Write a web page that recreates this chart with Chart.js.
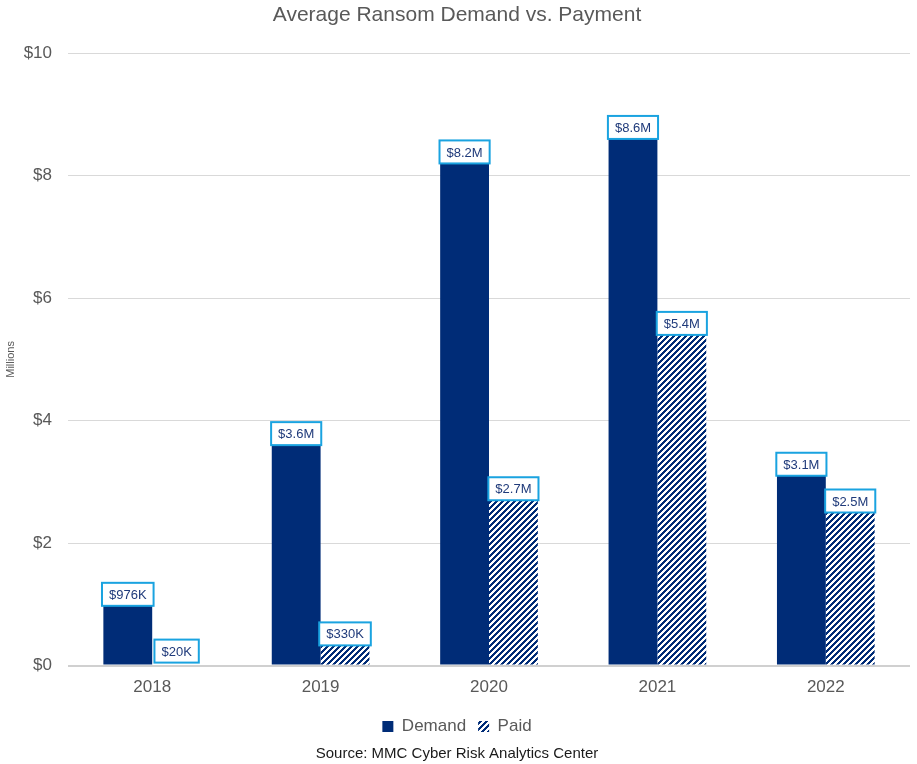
<!DOCTYPE html>
<html lang="en">
<head>
  <meta charset="UTF-8" />
  <title>Average Ransom Demand vs. Payment</title>
  <script src="https://cdn.jsdelivr.net/npm/chart.js"></script>
  <style>
    html, body { margin: 0; padding: 0; background: #ffffff; }
    #wrap { width: 917px; height: 764px; }
  </style>
</head>
<body>
  <div id="wrap"><canvas id="chart" width="917" height="764"></canvas></div>

  <script>
    // values in millions of dollars
    const years = ['2018', '2019', '2020', '2021', '2022'];
    const demand = [0.976, 3.6, 8.2, 8.6, 3.1];
    const paid = [0.02, 0.33, 2.7, 5.4, 2.5];
    const yTicks = [0, 2, 4, 6, 8, 10];

    const NAVY = '#002c77';
    const GREY = '#595959';
    const FONT = '"Liberation Sans", Arial, sans-serif';

    // diagonal stripes for the "Paid" series
    function stripes() {
      const size = 6;
      const c = document.createElement('canvas');
      c.width = size; c.height = size;
      const g = c.getContext('2d');
      g.fillStyle = '#ffffff';
      g.fillRect(0, 0, size, size);
      g.fillStyle = NAVY;
      for (let x = 0; x < size; x++) {
        for (let y = 0; y < size; y++) {
          if ((x + y) % size < 3) g.fillRect(x, y, 1, 1);
        }
      }
      return g.createPattern(c, 'repeat');
    }

    function fmt(v) {
      if (v < 1) return '$' + Math.round(v * 1000) + 'K';
      return '$' + v.toFixed(1) + 'M';
    }

    // boxed value label sitting on top of each bar
    const valueBoxes = {
      id: 'valueBoxes',
      afterDatasetsDraw(chart) {
        const ctx = chart.ctx;
        ctx.save();
        ctx.font = '13px ' + FONT;
        ctx.textAlign = 'center';
        ctx.textBaseline = 'middle';
        chart.data.datasets.forEach((ds, di) => {
          chart.getDatasetMeta(di).data.forEach((bar, i) => {
            const txt = fmt(ds.data[i]);
            const w = ctx.measureText(txt).width + 14;
            const h = 23;
            const cx = bar.x;
            const bottom = Math.min(bar.y, chart.chartArea.bottom - 3);
            const top = bottom - h;
            ctx.fillStyle = '#ffffff';
            ctx.fillRect(cx - w / 2, top, w, h);
            ctx.strokeStyle = '#1aa3e0';
            ctx.lineWidth = 2;
            ctx.strokeRect(cx - w / 2, top, w, h);
            ctx.fillStyle = '#1f3a7a';
            ctx.fillText(txt, cx, top + h / 2 + 1);
          });
        });
        ctx.restore();
      }
    };

    const ctx = document.getElementById('chart').getContext('2d');
    new Chart(ctx, {
      type: 'bar',
      data: {
        labels: years,
        datasets: [
          { label: 'Demand', data: demand, backgroundColor: NAVY, borderWidth: 0 },
          { label: 'Paid', data: paid, backgroundColor: stripes(), borderWidth: 0 }
        ]
      },
      options: {
        responsive: false,
        animation: false,
        layout: { padding: { left: 4, right: 7, top: 0, bottom: 1 } },
        datasets: { bar: { categoryPercentage: 0.58, barPercentage: 1.0 } },
        plugins: {
          title: {
            display: true,
            text: 'Average Ransom Demand vs. Payment',
            color: GREY,
            font: { family: FONT, size: 21, weight: 'normal' },
            padding: { top: 3, bottom: 25 }
          },
          subtitle: {
            display: true,
            position: 'bottom',
            text: 'Source: MMC Cyber Risk Analytics Center',
            color: '#1a1a1a',
            font: { family: FONT, size: 15 },
            padding: { top: 0, bottom: 0 }
          },
          legend: {
            position: 'bottom',
            labels: {
              color: GREY,
              boxWidth: 11,
              boxHeight: 11,
              padding: 12,
              font: { family: FONT, size: 17 }
            }
          },
          tooltip: { enabled: false }
        },
        scales: {
          x: {
            grid: { display: false },
            border: { display: false },
            afterFit(axis) { axis.height += 4; },
            ticks: {
              color: GREY,
              padding: 4,
              font: { family: FONT, size: 17 }
            }
          },
          y: {
            min: 0,
            max: 10,
            afterBuildTicks(axis) { axis.ticks = yTicks.map(v => ({ value: v })); },
            afterFit(axis) { axis.width = 64; },
            border: { display: false },
            grid: {
              drawTicks: false,
              color: ctx => ctx.tick && ctx.tick.value === 0 ? '#d0d0d0' : '#d9d9d9',
              lineWidth: ctx => ctx.tick && ctx.tick.value === 0 ? 2 : 1
            },
            title: {
              display: true,
              text: 'Millions',
              color: GREY,
              font: { family: FONT, size: 11 },
              padding: { top: 0, bottom: 0 }
            },
            ticks: {
              color: GREY,
              padding: 16,
              font: { family: FONT, size: 17 },
              callback: v => '$' + v
            }
          }
        }
      },
      plugins: [valueBoxes]
    });
  </script>
</body>
</html>
